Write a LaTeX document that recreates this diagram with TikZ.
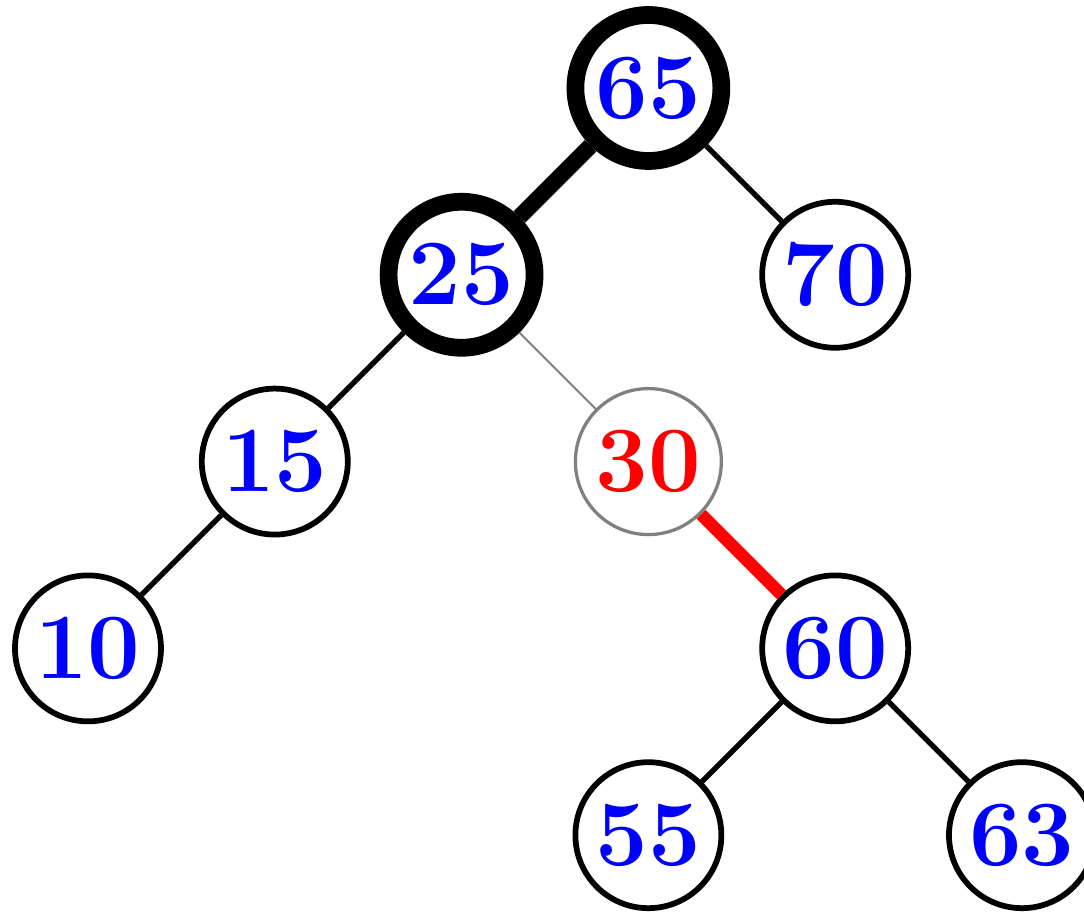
\documentclass[tikz,border=0pt]{standalone}
\begin{document}
\begin{tikzpicture}[
  vtx/.style={circle, draw=black, line width=1.75pt, minimum size=1.563cm, inner sep=0pt, fill=white,
    font=\fontsize{28.5}{32}\selectfont\bfseries, text=blue},
  hot/.style={vtx, line width=5.4pt},
  del/.style={vtx, draw=gray, line width=1pt, text=red},
  edge/.style={line width=1.6pt}
]
\useasboundingbox (0,0) rectangle (11.606,-9.765);
\node[hot] (n65) at (6.942,-0.942) {65};
\node[hot] (n25) at (4.942,-2.942) {25};
\node[vtx] (n70) at (8.942,-2.942) {70};
\node[vtx] (n15) at (2.942,-4.942) {15};
\node[del] (n30) at (6.942,-4.942) {30};
\node[vtx] (n10) at (0.942,-6.942) {10};
\node[vtx] (n60) at (8.942,-6.942) {60};
\node[vtx] (n55) at (6.942,-8.942) {55};
\node[vtx] (n63) at (10.942,-8.942) {63};
\draw[line width=5pt] (n65) -- (n25);
\draw[edge] (n65) -- (n70);
\draw[edge] (n25) -- (n15);
\draw[gray, line width=0.6pt] (n25) -- (n30);
\draw[edge] (n15) -- (n10);
\draw[red, line width=3.8pt] (n30) -- (n60);
\draw[edge] (n60) -- (n55);
\draw[edge] (n60) -- (n63);
\end{tikzpicture}
\end{document}
